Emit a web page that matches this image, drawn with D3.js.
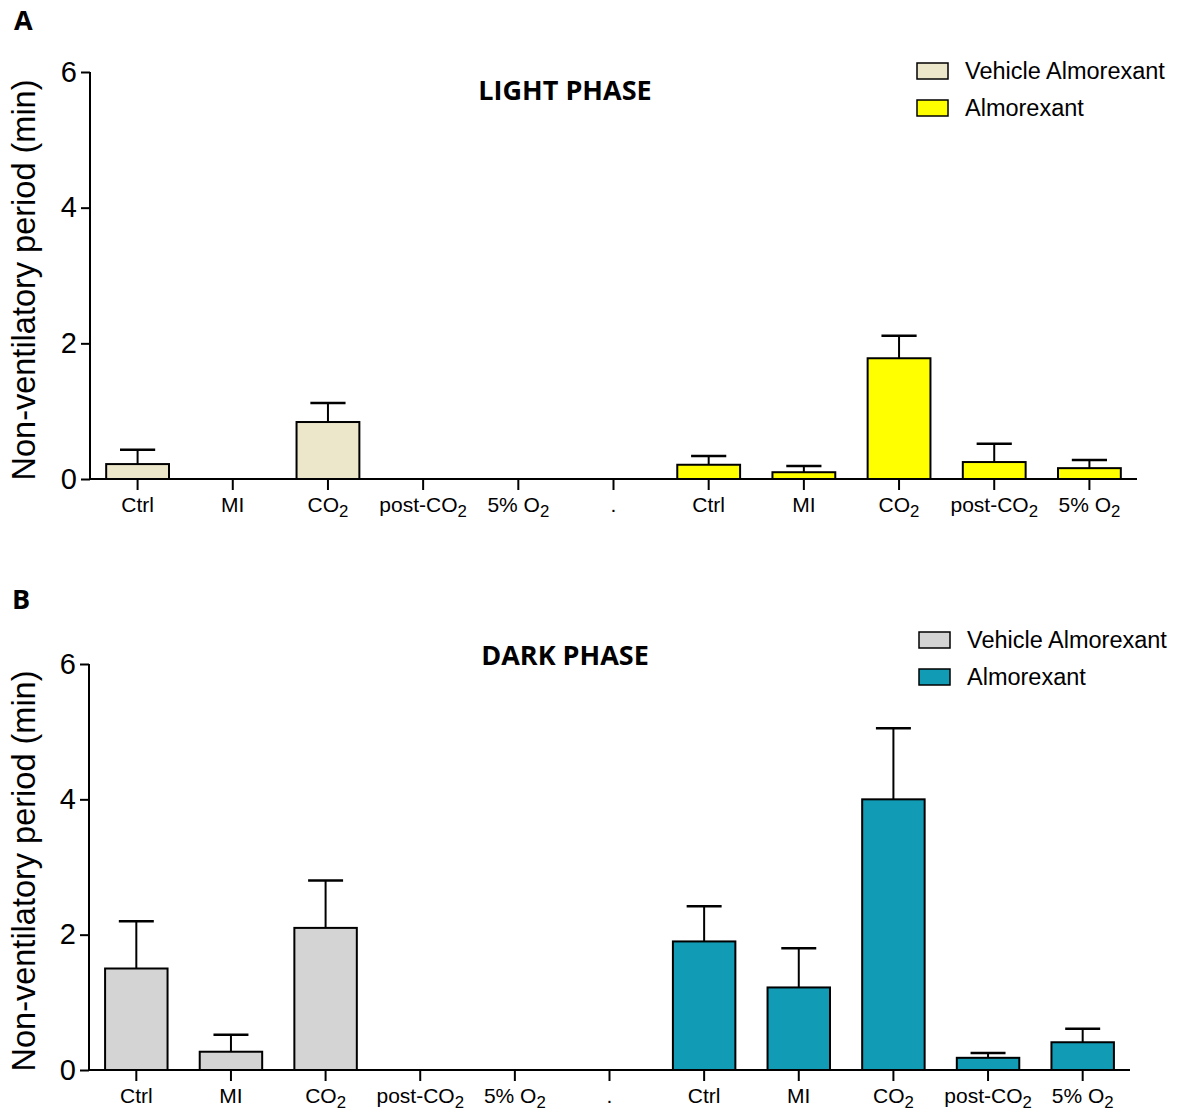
<!DOCTYPE html>
<html>
<head>
<meta charset="utf-8">
<script src="https://cdn.jsdelivr.net/npm/d3@7"></script>
<style>
  body { margin: 0; background: #fff; }
  svg { display: block; }
</style>
</head>
<body>
<svg id="chart" width="1182" height="1113"></svg>
<script>
// Categories along the x axis (11 slots: vehicle group, spacer ".", almorexant group)
const tickLabels = ["Ctrl", "MI", "CO2", "post-CO2", "5% O2", ".", "Ctrl", "MI", "CO2", "post-CO2", "5% O2"];
const conditions = ["Ctrl", "MI", "CO2", "post-CO2", "5% O2"];

// Light phase (min): mean and SEM
const lightVehicleMean = [0.22, null, 0.84, null, null];
const lightVehicleSem  = [0.21, null, 0.28, null, null];
const lightAlmoMean    = [0.21, 0.10, 1.78, 0.25, 0.16];
const lightAlmoSem     = [0.13, 0.09, 0.33, 0.27, 0.12];

// Dark phase (min): mean and SEM
const darkVehicleMean = [1.50, 0.27, 2.10, null, null];
const darkVehicleSem  = [0.70, 0.25, 0.70, null, null];
const darkAlmoMean    = [1.90, 1.22, 4.00, 0.18, 0.41];
const darkAlmoSem     = [0.52, 0.58, 1.05, 0.07, 0.20];

const yTicks = [0, 2, 4, 6];
const seriesNames = ["Vehicle Almorexant", "Almorexant"];

const svg = d3.select("#chart");
svg.append("rect").attr("width", 1182).attr("height", 1113).attr("fill", "#fff");

const sansFont = "'Liberation Sans', Arial, sans-serif";
const boldFont = "'Open Sans', 'Noto Sans', sans-serif";

// Writes text, rendering "O2"/"CO2" with a subscript 2
function writeChem(sel, label) {
  const m = label.match(/^(.*O)2$/);
  if (m) {
    sel.append("tspan").text(m[1]);
    sel.append("tspan").attr("font-size", "0.8em").attr("dy", "0.32em").text("2");
  } else {
    sel.text(label);
  }
}

function drawPanel(p) {
  const g = svg.append("g");

  const x = d3.scaleBand()
    .domain(d3.range(tickLabels.length))
    .range([p.x0, p.x1])
    .paddingInner(0.34)
    .paddingOuter(0.17);
  const y = d3.scaleLinear().domain([0, 6]).range([p.yBottom, p.yTop]);

  // panel letter
  g.append("text").attr("x", p.letterX).attr("y", p.letterY)
    .attr("font-family", boldFont).attr("font-weight", 700).attr("font-size", 27)
    .text(p.letter);

  // title
  g.append("text").attr("x", 565).attr("y", p.titleY)
    .attr("text-anchor", "middle")
    .attr("font-family", boldFont).attr("font-weight", 700).attr("font-size", 27)
    .text(p.title);

  // bars and error bars
  const rows = [];
  p.vehicleMean.forEach((v, i) => { if (v != null) rows.push({ idx: i, mean: v, sem: p.vehicleSem[i], color: p.colors[0] }); });
  p.almoMean.forEach((v, i) => { if (v != null) rows.push({ idx: i + 6, mean: v, sem: p.almoSem[i], color: p.colors[1] }); });

  const bw = x.bandwidth();
  const capHalf = bw * 0.28;

  const errs = g.append("g");
  errs.selectAll("line.stem").data(rows).join("line")
    .attr("x1", d => x(d.idx) + bw / 2).attr("x2", d => x(d.idx) + bw / 2)
    .attr("y1", d => y(d.mean)).attr("y2", d => y(d.mean + d.sem))
    .attr("stroke", "#000").attr("stroke-width", 2);
  errs.selectAll("line.cap").data(rows).join("line")
    .attr("x1", d => x(d.idx) + bw / 2 - capHalf).attr("x2", d => x(d.idx) + bw / 2 + capHalf)
    .attr("y1", d => y(d.mean + d.sem)).attr("y2", d => y(d.mean + d.sem))
    .attr("stroke", "#000").attr("stroke-width", 2.5);

  g.append("g").selectAll("rect").data(rows).join("rect")
    .attr("x", d => x(d.idx)).attr("width", bw)
    .attr("y", d => y(d.mean)).attr("height", d => y(0) - y(d.mean))
    .attr("fill", d => d.color).attr("stroke", "#000").attr("stroke-width", 2);

  // y axis
  const yAxis = g.append("g").attr("transform", `translate(${p.x0},0)`)
    .call(d3.axisLeft(y).tickValues(yTicks).tickSize(9).tickPadding(4).tickFormat(d3.format("d")));
  yAxis.select(".domain").attr("d", `M0,${y(6)}V${y(0)}`).attr("stroke-width", 2);
  yAxis.selectAll(".tick line").attr("stroke-width", 2);
  yAxis.selectAll(".tick text").attr("font-family", sansFont).attr("font-size", 29).attr("fill", "#000");

  // x axis
  const xAxis = g.append("g").attr("transform", `translate(0,${p.yBottom})`)
    .call(d3.axisBottom(x).tickSize(11).tickFormat(() => ""));
  xAxis.select(".domain").attr("d", `M${p.x0},0H${p.x1}`).attr("stroke-width", 2);
  xAxis.selectAll(".tick line").attr("stroke-width", 2);
  xAxis.selectAll(".tick text").remove();
  xAxis.selectAll(".tick").append("text")
    .attr("y", 33).attr("text-anchor", "middle")
    .attr("font-family", sansFont).attr("font-size", 21).attr("fill", "#000")
    .each(function (d) { writeChem(d3.select(this), tickLabels[d]); });

  // y axis title
  g.append("text")
    .attr("transform", `translate(35,${p.yTitleC}) rotate(-90)`)
    .attr("text-anchor", "middle")
    .attr("font-family", sansFont).attr("font-size", 32.5)
    .text("Non-ventilatory period (min)");

  // legend
  const lg = g.append("g").attr("transform", `translate(${p.legX},${p.legY})`);
  seriesNames.forEach((name, i) => {
    lg.append("rect").attr("x", 0).attr("y", i * 37).attr("width", 31).attr("height", 16)
      .attr("fill", p.colors[i]).attr("stroke", "#000").attr("stroke-width", 1.5);
    lg.append("text").attr("x", 48).attr("y", i * 37 + 16)
      .attr("font-family", sansFont).attr("font-size", 23.5).text(name);
  });
}

drawPanel({
  letter: "A", letterX: 14, letterY: 30,
  title: "LIGHT PHASE", titleY: 100,
  x0: 90, x1: 1137, yTop: 72, yBottom: 479, yTitleC: 280,
  vehicleMean: lightVehicleMean, vehicleSem: lightVehicleSem,
  almoMean: lightAlmoMean, almoSem: lightAlmoSem,
  colors: ["#ece6cb", "#ffff00"],
  legX: 917, legY: 63
});

drawPanel({
  letter: "B", letterX: 12, letterY: 609,
  title: "DARK PHASE", titleY: 665,
  x0: 89, x1: 1130, yTop: 664, yBottom: 1070, yTitleC: 871,
  vehicleMean: darkVehicleMean, vehicleSem: darkVehicleSem,
  almoMean: darkAlmoMean, almoSem: darkAlmoSem,
  colors: ["#d4d4d4", "#129bb4"],
  legX: 919, legY: 632
});
</script>
</body>
</html>
